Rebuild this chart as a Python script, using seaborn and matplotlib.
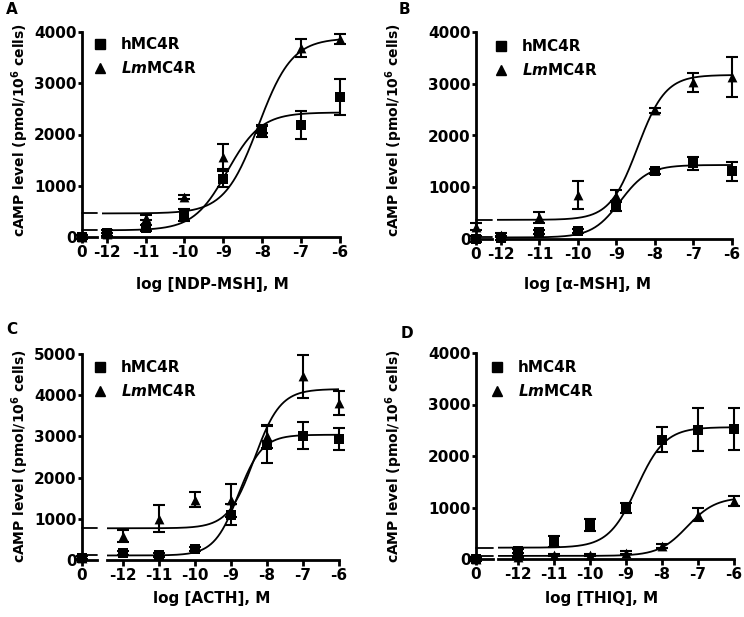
import numpy as np
import matplotlib
matplotlib.use("Agg")
import matplotlib.pyplot as plt
import seaborn as sns
from matplotlib.lines import Line2D

sns.set_style("ticks")
plt.rcParams["font.family"] = ["DejaVu Sans"]
plt.rcParams["font.weight"] = "bold"
plt.rcParams["axes.labelweight"] = "bold"
plt.rcParams["mathtext.fontset"] = "dejavusans"
plt.rcParams["mathtext.default"] = "bf"
plt.rcParams["text.color"] = "black"
plt.rcParams["xtick.color"] = "black"
plt.rcParams["ytick.color"] = "black"
plt.rcParams["axes.edgecolor"] = "black"

# log concentration, 0 = no ligand
conc = [0, -12, -11, -10, -9, -8, -7, -6]

# A: NDP-MSH
a_h = [0, 80, 170, 430, 1130, 2060, 2190, 2740]
a_h_err = [30, 60, 60, 120, 150, 100, 270, 350]
a_lm = [0, 50, 380, 780, 1570, 2100, 3690, 3860]
a_lm_err = [30, 30, 40, 40, 250, 80, 180, 100]
a_h_fit = [130, 2430, -8.9, 1.0]      # bottom, top, logEC50, hill
a_lm_fit = [460, 3880, -8.1, 1.0]

# B: alpha-MSH
b_h = [0, 20, 140, 150, 640, 1310, 1460, 1310]
b_h_err = [60, 40, 40, 40, 100, 50, 130, 180]
b_lm = [240, 80, 420, 850, 830, 2490, 3030, 3130]
b_lm_err = [60, 40, 110, 270, 110, 50, 180, 380]
b_h_fit = [30, 1430, -8.9, 1.2]
b_lm_fit = [370, 3170, -8.45, 1.2]

# C: ACTH
c_h = [50, 170, 120, 270, 1100, 2800, 3020, 2940]
c_h_err = [40, 40, 40, 50, 250, 450, 330, 270]
c_lm = [60, 590, 1000, 1460, 1450, 3000, 4460, 3810]
c_lm_err = [40, 150, 330, 180, 400, 280, 520, 290]
c_h_fit = [110, 3040, -8.8, 1.3]
c_lm_fit = [770, 4150, -8.35, 1.2]

# D: THIQ
d_h = [0, 160, 340, 660, 990, 2320, 2510, 2520]
d_h_err = [30, 40, 100, 120, 100, 250, 420, 410]
d_lm = [0, 30, 80, 80, 120, 250, 860, 1120]
d_lm_err = [20, 20, 20, 20, 30, 40, 130, 100]
d_h_fit = [220, 2560, -8.7, 1.1]
d_lm_fit = [60, 1200, -7.3, 1.1]

letters = ["A", "B", "C", "D"]
xlabels = ["log [NDP-MSH], M", "log [\u03b1-MSH], M", "log [ACTH], M", "log [THIQ], M"]
ymaxes = [4000, 4000, 5000, 4000]
legend_labels = ["hMC4R", r"$\mathbfit{Lm}$MC4R"]

W, H = 744, 617
fig = plt.figure(figsize=(W / 100, H / 100), dpi=100)


def px_axes(xa, xb, ybot, ytop):
    return fig.add_axes([xa / W, 1 - ybot / H, (xb - xa) / W, (ybot - ytop) / H])


def four_pl(x, bottom, top, logec50, hill):
    return bottom + (top - bottom) / (1 + 10 ** ((logec50 - x) * hill))


# x0, break left end, break right start, x1, y bottom, y top, right xlim start
boxes = [(82, 97, 102, 340, 237, 32, -12.12),
         (476, 492, 497, 732, 239, 32, -12.10),
         (82, 97, 107, 339, 560, 354, -12.44),
         (476, 493, 498, 734, 559, 353, -12.56)]
letter_pos = [(12, 10), (404, 10), (12, 330), (407, 333)]
ylabel_pos = [(20, 130), (394, 130), (20, 456), (394, 456)]
xlabel_pos = [(212, 285), (587, 285), (212, 598), (602, 598)]
legend_pos = [(92, 37), (493, 39), (92, 360), (489, 360)]

panels = [(a_h, a_h_err, a_lm, a_lm_err, a_h_fit, a_lm_fit),
          (b_h, b_h_err, b_lm, b_lm_err, b_h_fit, b_lm_fit),
          (c_h, c_h_err, c_lm, c_lm_err, c_h_fit, c_lm_fit),
          (d_h, d_h_err, d_lm, d_lm_err, d_h_fit, d_lm_fit)]

lw_axis = 2.0
for i, (h, h_err, lm, lm_err, h_fit, lm_fit) in enumerate(panels):
    x0, xb, xr, x1, ybot, ytop, xleft = boxes[i]
    axl = px_axes(x0, xb, ybot, ytop)
    axr = px_axes(xr, x1, ybot, ytop)
    ymax = ymaxes[i]
    for ax in (axl, axr):
        ax.set_ylim(0, ymax)
        ax.patch.set_alpha(0)
        for s in ["top", "right"]:
            ax.spines[s].set_visible(False)
        ax.spines["bottom"].set_linewidth(lw_axis)
        ax.spines["left"].set_linewidth(lw_axis)
        ax.tick_params(axis="x", width=lw_axis, length=4, labelsize=11, pad=2, color="black")
        ax.tick_params(axis="y", width=lw_axis, length=3, labelsize=11, pad=1, color="black")
    axr.spines["left"].set_visible(False)
    axr.set_yticks([])
    axl.set_xlim(0, 1)
    axr.set_xlim(xleft, -6)
    axl.set_xticks([0])
    axl.set_xticklabels(["0"])
    axr.set_xticks(conc[1:])
    axr.set_xticklabels([str(c) for c in conc[1:]])
    axl.set_yticks(range(0, ymax + 1, 1000))
    axl.set_yticklabels([str(v) for v in range(0, ymax + 1, 1000)])

    xs = np.linspace(xleft, -6, 300)
    for vals, errs, marker, fit in [(h, h_err, "s", h_fit), (lm, lm_err, "^", lm_fit)]:
        axl.errorbar([conc[0]], [vals[0]], yerr=[errs[0]], fmt="none", ecolor="black",
                     elinewidth=1.5, capsize=4, capthick=1.5, clip_on=False, zorder=4)
        sns.scatterplot(x=[conc[0]], y=[vals[0]], marker=marker, s=50, color="black",
                        edgecolor="black", linewidth=0, ax=axl, clip_on=False, zorder=5)
        axl.plot([0, 1], [fit[0], fit[0]], color="black", lw=1.3, clip_on=False)
        axr.errorbar(conc[1:], vals[1:], yerr=errs[1:], fmt="none", ecolor="black",
                     elinewidth=1.5, capsize=4, capthick=1.5, clip_on=False, zorder=4)
        sns.scatterplot(x=conc[1:], y=vals[1:], marker=marker, s=50, color="black",
                        edgecolor="black", linewidth=0, ax=axr, clip_on=False, zorder=5)
        sns.lineplot(x=xs, y=four_pl(xs, *fit), color="black", lw=1.3, ax=axr)

    handles = [Line2D([], [], marker="s", ls="none", color="black", ms=7),
               Line2D([], [], marker="^", ls="none", color="black", ms=7)]
    lx, ly = legend_pos[i]
    axr.legend(handles, legend_labels, loc="upper left", bbox_to_anchor=(lx / W, 1 - ly / H),
               bbox_transform=fig.transFigure, frameon=False, fontsize=11, borderpad=0,
               borderaxespad=0, handlelength=1.0, handletextpad=0.9, labelspacing=0.55)

    fig.text(letter_pos[i][0] / W, 1 - letter_pos[i][1] / H, letters[i], fontsize=11,
             fontweight="bold", ha="center", va="center")
    fig.text(ylabel_pos[i][0] / W, 1 - ylabel_pos[i][1] / H,
             r"cAMP level (pmol/10$^{6}$ cells)", fontsize=10, fontweight="bold",
             rotation=90, ha="center", va="center")
    fig.text(xlabel_pos[i][0] / W, 1 - xlabel_pos[i][1] / H, xlabels[i], fontsize=11,
             fontweight="bold", ha="center", va="center")

fig.savefig("out.png", dpi=100)
